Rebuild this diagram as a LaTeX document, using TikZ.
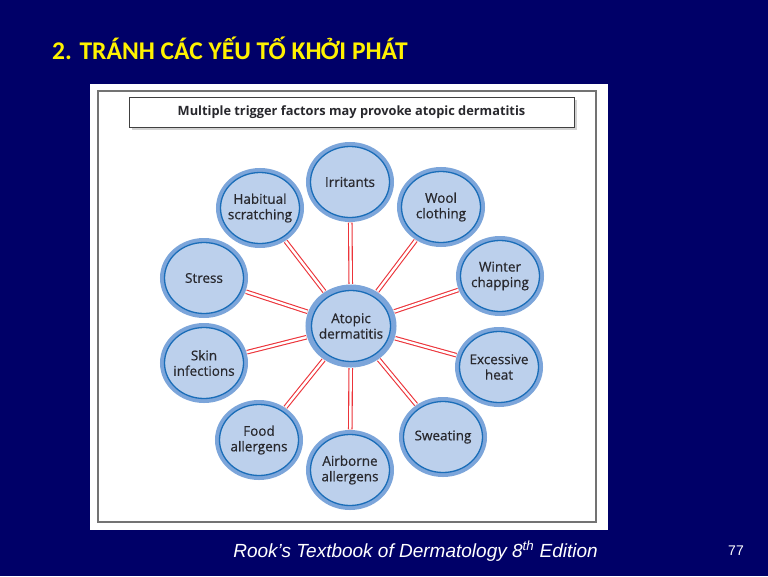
\documentclass[tikz,border=0pt]{standalone}
\usepackage{fontspec}
\setmainfont{Open Sans}
\newfontfamily\titlefont{Carlito}
\newfontfamily\footfont{Liberation Sans}
\newfontfamily\cellfont[FakeBold=0.5]{Open Sans}
\usetikzlibrary{shapes.geometric,shadows}

\definecolor{slidebg}{RGB}{0,0,104}
\definecolor{ringblue}{RGB}{124,165,218}
\definecolor{lineblue}{RGB}{26,109,184}
\definecolor{cellfill}{RGB}{188,208,236}
\definecolor{linkred}{RGB}{236,52,58}
\definecolor{textgrey}{RGB}{40,40,45}

\begin{document}
\begin{tikzpicture}[x=1pt,y=-1pt,
    factor/.style={ellipse, draw=lineblue, line width=1.3pt, fill=cellfill,
        preaction={draw=ringblue, line width=9pt},
        minimum width=79pt, minimum height=71pt, inner sep=-10pt,
        align=center, text=textgrey, font=\cellfont\fontsize{13.5}{15.5}\selectfont},
    hub/.style={factor, preaction={draw=ringblue, line width=12pt}},
    link/.style={draw=linkred, line width=1.1pt, double=white, double distance=2.4pt,
        shorten <=6pt, shorten >=4.5pt}]
    % slide and panel
    \fill[slidebg] (0,0) rectangle (768,576);
    \useasboundingbox (0,0) rectangle (768,576);
    \fill[white] (90,84) rectangle (608,530);
    \draw[black!55, line width=1.2pt] (98,91) rectangle (596,522);

    \node[font=\titlefont\bfseries\fontsize{25.5}{28}\selectfont, text=yellow,
        inner sep=0pt, anchor=base west] (title) at (52,59) {2. TRÁNH CÁC YẾU TỐ KHỞI PHÁT};

    \node[draw=black!75, line width=1pt, fill=white, minimum width=445pt, minimum height=30pt,
        drop shadow={opacity=0.35, shadow xshift=3pt, shadow yshift=-3pt},
        text=textgrey, font=\bfseries\fontsize{12.8}{15}\selectfont] (head) at (351.5,112)
        {Multiple trigger factors may provoke atopic dermatitis};

    % factors
    \node[hub] (ad) at (351,326) {Atopic\\dermatitis};
    \node[factor] (irr) at (350,182) {Irritants};
    \node[factor] (wool) at (441,207) {Wool\\clothing};
    \node[factor] (winter) at (500,276) {Winter\\chapping};
    \node[factor] (heat) at (499,367) {Excessive\\heat};
    \node[factor] (sweat) at (443,437) {Sweating};
    \node[factor] (air) at (350,470) {Airborne\\allergens};
    \node[factor] (food) at (259,440) {Food\\allergens};
    \node[factor] (skin) at (204,363) {Skin\\infections};
    \node[factor] (stress) at (204,278) {Stress};
    \node[factor] (habit) at (260,208) {Habitual\\scratching};

    % links
    \draw[link] (ad) -- (irr);
    \draw[link] (ad) -- (wool);
    \draw[link] (ad) -- (winter);
    \draw[link] (ad) -- (heat);
    \draw[link] (ad) -- (sweat);
    \draw[link] (ad) -- (air);
    \draw[link] (ad) -- (food);
    \draw[link] (ad) -- (skin);
    \draw[link] (ad) -- (stress);
    \draw[link] (ad) -- (habit);

    % footer
    \node[font=\footfont\itshape\fontsize{19}{22}\selectfont, text=white, anchor=base]
        (source) at (415.5,557) {Rook’s Textbook of Dermatology 8\textsuperscript{th} Edition};
    \node[font=\footfont\fontsize{14}{16}\selectfont, text=white, anchor=base]
        (page) at (736,555) {77};
\end{tikzpicture}
\end{document}
